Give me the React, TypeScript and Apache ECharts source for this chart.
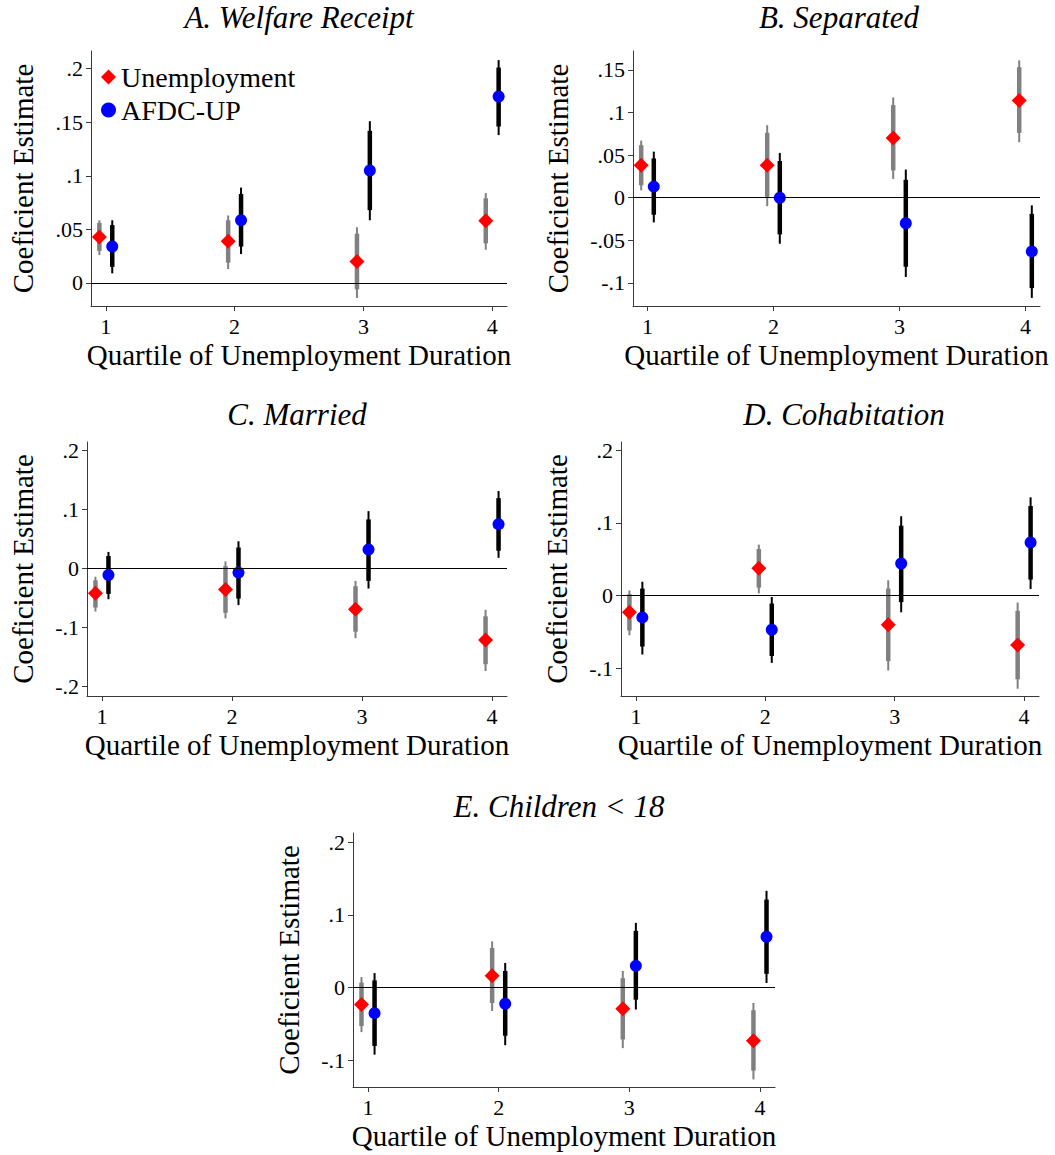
import React, { useEffect, useRef } from "react";
import * as echarts from "echarts";

// ---------- DATA ----------
const quartiles = [1, 2, 3, 4];
const panelTitles = ["A. Welfare Receipt", "B. Separated", "C. Married", "D. Cohabitation", "E. Children < 18"];
const seriesNames = ["Unemployment", "AFDC-UP"];

// A. Welfare Receipt
const welfareUnemp = [0.043, 0.039, 0.020, 0.058];
const welfareUnempInner = [[0.030, 0.056], [0.019, 0.0585], [-0.006, 0.046], [0.037, 0.079]];
const welfareUnempOuter = [[0.026, 0.0585], [0.013, 0.063], [-0.014, 0.052], [0.031, 0.084]];
const welfareAfdc = [0.034, 0.0585, 0.105, 0.174];
const welfareAfdcInner = [[0.015, 0.054], [0.034, 0.083], [0.068, 0.142], [0.146, 0.201]];
const welfareAfdcOuter = [[0.009, 0.0585], [0.027, 0.089], [0.0585, 0.151], [0.138, 0.208]];

// B. Separated
const separatedUnemp = [0.038, 0.038, 0.070, 0.114];
const separatedUnempInner = [[0.0145, 0.0615], [0.001, 0.076], [0.032, 0.1085], [0.076, 0.153]];
const separatedUnempOuter = [[0.0086, 0.067], [-0.010, 0.085], [0.022, 0.1175], [0.065, 0.161]];
const separatedAfdc = [0.013, 0.0, -0.030, -0.063];
const separatedAfdcInner = [[-0.020, 0.046], [-0.043, 0.043], [-0.081, 0.021], [-0.106, -0.019]];
const separatedAfdcOuter = [[-0.029, 0.054], [-0.054, 0.0525], [-0.093, 0.033], [-0.1175, -0.009]];

// C. Married
const marriedUnemp = [-0.042, -0.0355, -0.069, -0.121];
const marriedUnempInner = [[-0.066, -0.020], [-0.075, 0.004], [-0.107, -0.030], [-0.162, -0.081]];
const marriedUnempOuter = [[-0.073, -0.014], [-0.0845, 0.012], [-0.118, -0.021], [-0.1735, -0.070]];
const marriedAfdc = [-0.011, -0.007, 0.032, 0.075];
const marriedAfdcInner = [[-0.043, 0.021], [-0.051, 0.0355], [-0.021, 0.083], [0.030, 0.119]];
const marriedAfdcOuter = [[-0.052, 0.028], [-0.062, 0.046], [-0.034, 0.097], [0.018, 0.131]];

// D. Cohabitation
const cohabUnemp = [-0.023, 0.0375, -0.040, -0.068];
const cohabUnempInner = [[-0.048, 0.002], [0.011, 0.064], [-0.090, 0.0096], [-0.115, -0.021]];
const cohabUnempOuter = [[-0.0545, 0.007], [0.003, 0.070], [-0.103, 0.021], [-0.128, -0.0096]];
const cohabAfdc = [-0.030, -0.047, 0.044, 0.073];
const cohabAfdcInner = [[-0.070, 0.0096], [-0.083, -0.011], [-0.009, 0.096], [0.022, 0.123]];
const cohabAfdcOuter = [[-0.081, 0.019], [-0.0925, -0.002], [-0.023, 0.109], [0.009, 0.135]];

// E. Children < 18
const childrenUnemp = [-0.023, 0.0165, -0.029, -0.073];
const childrenUnempInner = [[-0.0526, 0.007], [-0.021, 0.0545], [-0.071, 0.013], [-0.114, -0.031]];
const childrenUnempOuter = [[-0.061, 0.0146], [-0.032, 0.0636], [-0.083, 0.023], [-0.126, -0.021]];
const childrenAfdc = [-0.035, -0.022, 0.030, 0.070];
const childrenAfdcInner = [[-0.080, 0.010], [-0.066, 0.023], [-0.0165, 0.078], [0.019, 0.121]];
const childrenAfdcOuter = [[-0.092, 0.020], [-0.079, 0.034], [-0.030, 0.089], [0.0064, 0.133]];

// y-axis tick values per panel
const welfareTicks = [0, 0.05, 0.1, 0.15, 0.2];
const separatedTicks = [-0.1, -0.05, 0, 0.05, 0.1, 0.15];
const marriedTicks = [-0.2, -0.1, 0, 0.1, 0.2];
const cohabTicks = [-0.1, 0, 0.1, 0.2];
const childrenTicks = [-0.1, 0, 0.1, 0.2];

// y-axis ranges per panel
const welfareRange = [-0.0215, 0.2165];
const separatedRange = [-0.127, 0.172];
const marriedRange = [-0.2158, 0.214];
const cohabRange = [-0.138, 0.211];
const childrenRange = [-0.1364, 0.2124];

// ---------- LAYOUT / STYLE ----------
const OFFSET = 0.05;
const X_MIN = 0.885;
const X_MAX = 4.115;
const FONT = "Liberation Serif";
const AXIS_COLOR = "#3a3a3a";

const panels = [
  { title: panelTitles[0], unemp: welfareUnemp, unempIn: welfareUnempInner, unempOut: welfareUnempOuter, afdc: welfareAfdc, afdcIn: welfareAfdcInner, afdcOut: welfareAfdcOuter, ticks: welfareTicks, range: welfareRange,
    grid: { left: 91, top: 51, width: 416, height: 255 }, nameGap: 54, titlePos: [299, 17] },
  { title: panelTitles[1], unemp: separatedUnemp, unempIn: separatedUnempInner, unempOut: separatedUnempOuter, afdc: separatedAfdc, afdcIn: separatedAfdcInner, afdcOut: separatedAfdcOuter, ticks: separatedTicks, range: separatedRange,
    grid: { left: 633, top: 51, width: 407, height: 255 }, nameGap: 61, titlePos: [839, 17] },
  { title: panelTitles[2], unemp: marriedUnemp, unempIn: marriedUnempInner, unempOut: marriedUnempOuter, afdc: marriedAfdc, afdcIn: marriedAfdcInner, afdcOut: marriedAfdcOuter, ticks: marriedTicks, range: marriedRange,
    grid: { left: 87, top: 442, width: 420, height: 254 }, nameGap: 50, titlePos: [297, 414] },
  { title: panelTitles[3], unemp: cohabUnemp, unempIn: cohabUnempInner, unempOut: cohabUnempOuter, afdc: cohabAfdc, afdcIn: cohabAfdcInner, afdcOut: cohabAfdcOuter, ticks: cohabTicks, range: cohabRange,
    grid: { left: 621, top: 442, width: 418, height: 254 }, nameGap: 49.5, titlePos: [844, 414] },
  { title: panelTitles[4], unemp: childrenUnemp, unempIn: childrenUnempInner, unempOut: childrenUnempOuter, afdc: childrenAfdc, afdcIn: childrenAfdcInner, afdcOut: childrenAfdcOuter, ticks: childrenTicks, range: childrenRange,
    grid: { left: 353, top: 833, width: 422, height: 254 }, nameGap: 50, titlePos: [559, 806] },
];

const fmt = (v: number) => {
  const s = String(parseFloat(v.toFixed(3)));
  return s.replace(/^(-?)0\./, "$1.");
};

function errorSeries(idx: number, name: string, ci: number[][], offset: number, color: string, width: number) {
  return {
    type: "custom",
    name,
    xAxisIndex: idx,
    yAxisIndex: idx,
    silent: true,
    encode: { x: 0, y: [1, 2] },
    data: quartiles.map((q, i) => [q + offset, ci[i][0], ci[i][1]]),
    renderItem: (params: any, api: any) => {
      const x = api.value(0);
      const lo = api.coord([x, api.value(1)]);
      const hi = api.coord([x, api.value(2)]);
      return {
        type: "line",
        shape: { x1: lo[0], y1: lo[1], x2: hi[0], y2: hi[1] },
        style: { stroke: color, lineWidth: width, lineCap: "butt" },
      };
    },
  };
}

function buildOption() {
  const grid: any[] = [];
  const xAxis: any[] = [];
  const yAxis: any[] = [];
  const series: any[] = [];
  const graphic: any[] = [];

  panels.forEach((p, i) => {
    grid.push({ ...p.grid, containLabel: false });
    xAxis.push({
      type: "value",
      gridIndex: i,
      min: X_MIN,
      max: X_MAX,
      name: "Quartile of Unemployment Duration",
      nameLocation: "middle",
      nameGap: 34,
      nameTextStyle: { fontFamily: FONT, fontSize: 29, color: "#000" },
      axisLine: { show: true, onZero: false, lineStyle: { color: AXIS_COLOR, width: 1 } },
      axisTick: { show: true, length: 5, lineStyle: { color: AXIS_COLOR }, customValues: quartiles },
      axisLabel: { fontFamily: FONT, fontSize: 22, color: "#000", margin: 9, customValues: quartiles, formatter: (v: number) => String(v) },
      splitLine: { show: false },
    });
    yAxis.push({
      type: "value",
      gridIndex: i,
      min: p.range[0],
      max: p.range[1],
      name: "Coeficient Estimate",
      nameLocation: "middle",
      nameGap: p.nameGap,
      nameTextStyle: { fontFamily: FONT, fontSize: 29, color: "#000" },
      axisLine: { show: true, onZero: false, lineStyle: { color: AXIS_COLOR, width: 1 } },
      axisTick: { show: true, length: 5, lineStyle: { color: AXIS_COLOR }, customValues: p.ticks },
      axisLabel: { fontFamily: FONT, fontSize: 22, color: "#000", margin: 8, customValues: p.ticks, formatter: (v: number) => fmt(v) },
      splitLine: { show: false },
    });

    series.push(errorSeries(i, "ci-u-out-" + i, p.unempOut, -OFFSET, "#808080", 2));
    series.push(errorSeries(i, "ci-u-in-" + i, p.unempIn, -OFFSET, "#808080", 4.5));
    series.push(errorSeries(i, "ci-a-out-" + i, p.afdcOut, OFFSET, "#000000", 2));
    series.push(errorSeries(i, "ci-a-in-" + i, p.afdcIn, OFFSET, "#000000", 4.5));

    series.push({
      type: "scatter",
      name: seriesNames[0],
      xAxisIndex: i,
      yAxisIndex: i,
      symbol: "diamond",
      symbolSize: 15,
      itemStyle: { color: "#ff0000", opacity: 1 },
      data: quartiles.map((q, k) => [q - OFFSET, p.unemp[k]]),
      markLine: {
        silent: true,
        symbol: ["none", "none"],
        label: { show: false },
        lineStyle: { color: "#000", width: 1, type: "solid" },
        data: [{ yAxis: 0 }],
      },
      z: 3,
    });
    series.push({
      type: "scatter",
      name: seriesNames[1],
      xAxisIndex: i,
      yAxisIndex: i,
      symbol: "circle",
      symbolSize: 12,
      itemStyle: { color: "#0000ff", opacity: 1 },
      data: quartiles.map((q, k) => [q + OFFSET, p.afdc[k]]),
      z: 3,
    });

    graphic.push({
      type: "text",
      x: p.titlePos[0],
      y: p.titlePos[1],
      style: {
        text: p.title,
        fontFamily: FONT,
        fontSize: 31,
        fontStyle: "italic",
        fill: "#000",
        align: "center",
        verticalAlign: "middle",
      },
    });
  });

  return {
    animation: false,
    backgroundColor: "#fff",
    grid,
    xAxis,
    yAxis,
    series,
    graphic,
    legend: {
      data: seriesNames,
      orient: "vertical",
      left: 101,
      top: 63,
      itemWidth: 15,
      itemHeight: 15,
      itemGap: 5,
      padding: 0,
      selectedMode: false,
      textStyle: { fontFamily: FONT, fontSize: 28, color: "#000" },
    },
  };
}

export default function App() {
  const ref = useRef<HTMLDivElement>(null);
  useEffect(() => {
    if (!ref.current) return;
    const chart = echarts.init(ref.current, null, { renderer: "svg" });
    chart.setOption(buildOption() as any);
    return () => chart.dispose();
  }, []);
  return (
    <div
      ref={ref}
      style={{ position: "absolute", left: 0, top: 0, width: 1055, height: 1155, background: "#fff" }}
    />
  );
}
